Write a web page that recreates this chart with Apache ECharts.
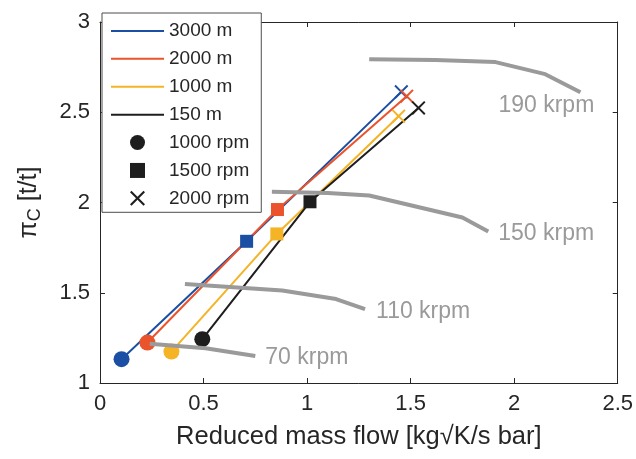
<!DOCTYPE html>
<html>
<head>
<meta charset="utf-8">
<script src="https://cdn.jsdelivr.net/npm/echarts@6/dist/echarts.min.js"></script>
<style>
  html, body { margin: 0; padding: 0; background: #fff; }
  #chart { width: 636px; height: 459px; }
</style>
</head>
<body>
<div id="chart"></div>
<script>
// Compressor operating points at four altitudes
const altitudes = ['3000 m', '2000 m', '1000 m', '150 m'];
const altColors = ['#1a4fa3', '#ea532b', '#f5b326', '#1e1e1e'];

// Reduced mass flow [kg√K/s bar] and pressure ratio per engine speed, one value per altitude
const flow1000rpm = [0.104, 0.229, 0.345, 0.494];
const pr1000rpm   = [1.132, 1.224, 1.174, 1.243];
const flow1500rpm = [0.708, 0.857, 0.854, 1.014];
const pr1500rpm   = [1.785, 1.961, 1.826, 2.004];
const flow2000rpm = [1.455, 1.481, 1.442, 1.538];
const pr2000rpm   = [2.613, 2.589, 2.478, 2.524];

// Turbocharger speed lines [flow, pressure ratio]
const speedNames = ['70 krpm', '110 krpm', '150 krpm', '190 krpm'];
const speed70  = [[0.24, 1.217], [0.51, 1.193], [0.75, 1.150]];
const speed110 = [[0.41, 1.548], [0.88, 1.513], [1.14, 1.465], [1.28, 1.409]];
const speed150 = [[0.83, 2.059], [1.10, 2.053], [1.30, 2.039], [1.75, 1.917], [1.875, 1.839]];
const speed190 = [[1.30, 2.794], [1.62, 2.789], [1.91, 2.778], [2.15, 2.711], [2.32, 2.611]];
const speedLines = [speed70, speed110, speed150, speed190];
const speedLabelOffsets = [[2, 2], [3, 2], [2, 2], [-90, 13]];

const FONT = '"Liberation Sans", Arial, Helvetica, sans-serif';
const AXIS_COLOR = '#262626';
const SPEED_COLOR = '#9a9a9a';
const CROSS = 'path://M0,2L2,0L10,8L18,0L20,2L12,10L20,18L18,20L10,12L2,20L0,18L8,10Z';
const SQUARE = 'path://M0,0L10,0L10,10L0,10Z';
const LINE_ICON = 'path://M0,0L53,0L53,2L0,2Z';

const fmt = v => String(v);

function axisBase(show) {
  return {
    axisLine: { show: true, onZero: false, lineStyle: { color: AXIS_COLOR, width: 1 } },
    axisTick: { show: true, inside: true, length: 5, lineStyle: { color: AXIS_COLOR } },
    splitLine: { show: false },
    axisLabel: show
      ? { show: true, color: AXIS_COLOR, fontSize: 22, fontFamily: FONT, margin: 10, formatter: fmt }
      : { show: false }
  };
}

const series = [];

// altitude lines through the three operating points
altitudes.forEach((name, i) => {
  series.push({
    name: name,
    type: 'line',
    symbol: 'none',
    z: 2,
    lineStyle: { color: altColors[i], width: 2 },
    itemStyle: { color: altColors[i] },
    data: [
      [flow1000rpm[i], pr1000rpm[i]],
      [flow1500rpm[i], pr1500rpm[i]],
      [flow2000rpm[i], pr2000rpm[i]]
    ]
  });
});

// operating point markers, coloured by altitude
function markerSeries(name, symbol, size, flows, prs) {
  return {
    name: name,
    type: 'scatter',
    symbol: symbol,
    symbolSize: size,
    z: 3,
    itemStyle: { color: '#1e1e1e', opacity: 1 },
    data: flows.map((f, i) => ({
      value: [f, prs[i]],
      itemStyle: { color: altColors[i], opacity: 1 }
    }))
  };
}
series.push(markerSeries('1000 rpm', 'circle', 16, flow1000rpm, pr1000rpm));
series.push(markerSeries('1500 rpm', SQUARE, 13, flow1500rpm, pr1500rpm));
series.push(markerSeries('2000 rpm', CROSS, 14, flow2000rpm, pr2000rpm));

// speed lines with their labels at the end
speedLines.forEach((pts, i) => {
  series.push({
    name: speedNames[i],
    type: 'line',
    symbol: 'none',
    z: 4,
    silent: true,
    lineStyle: { color: SPEED_COLOR, width: 4 },
    data: pts,
    endLabel: {
      show: true,
      formatter: '{a}',
      color: SPEED_COLOR,
      fontSize: 23,
      fontFamily: FONT,
      offset: speedLabelOffsets[i]
    }
  });
});

const chart = echarts.init(document.getElementById('chart'), null, { renderer: 'canvas' });
chart.setOption({
  animation: false,
  backgroundColor: '#fff',
  grid: { left: 100, right: 16, top: 22, bottom: 76, containLabel: false },
  xAxis: [
    Object.assign(axisBase(true), {
      type: 'value', min: 0, max: 2.5, interval: 0.5, position: 'bottom',
      name: 'Reduced mass flow [kg\u221AK/s bar]',
      nameLocation: 'middle', nameGap: 41,
      nameTextStyle: { color: AXIS_COLOR, fontSize: 25.5, fontFamily: FONT }
    }),
    Object.assign(axisBase(false), {
      type: 'value', min: 0, max: 2.5, interval: 0.5, position: 'top'
    })
  ],
  yAxis: [
    Object.assign(axisBase(true), {
      type: 'value', min: 1, max: 3, interval: 0.5, position: 'left',
      name: '{p|\u03C0}{s|C}{p| [t/t]}',
      nameLocation: 'middle', nameGap: 56,
      nameTextStyle: {
        color: AXIS_COLOR, fontFamily: FONT,
        rich: {
          p: { fontSize: 25, lineHeight: 30, color: AXIS_COLOR, fontFamily: FONT },
          s: { fontSize: 18, lineHeight: 18, verticalAlign: 'bottom', color: AXIS_COLOR, fontFamily: FONT }
        }
      }
    }),
    Object.assign(axisBase(false), {
      type: 'value', min: 1, max: 3, interval: 0.5, position: 'right'
    })
  ],
  legend: {
    orient: 'vertical',
    left: 102,
    top: 13,
    padding: [4, 12, 0, 9],
    itemGap: 0,
    itemWidth: 53,
    itemHeight: 15,
    backgroundColor: '#fff',
    borderColor: '#4d4d4d',
    borderWidth: 1,
    borderRadius: 0,
    symbolKeepAspect: true,
    textStyle: { color: AXIS_COLOR, fontSize: 19, fontFamily: FONT, lineHeight: 27.9 },
    data: altitudes.map(name => ({ name: name, icon: LINE_ICON })).concat([
      { name: '1000 rpm', icon: 'circle' },
      { name: '1500 rpm', icon: SQUARE },
      { name: '2000 rpm', icon: CROSS }
    ])
  },
  series: series
});
</script>
</body>
</html>
